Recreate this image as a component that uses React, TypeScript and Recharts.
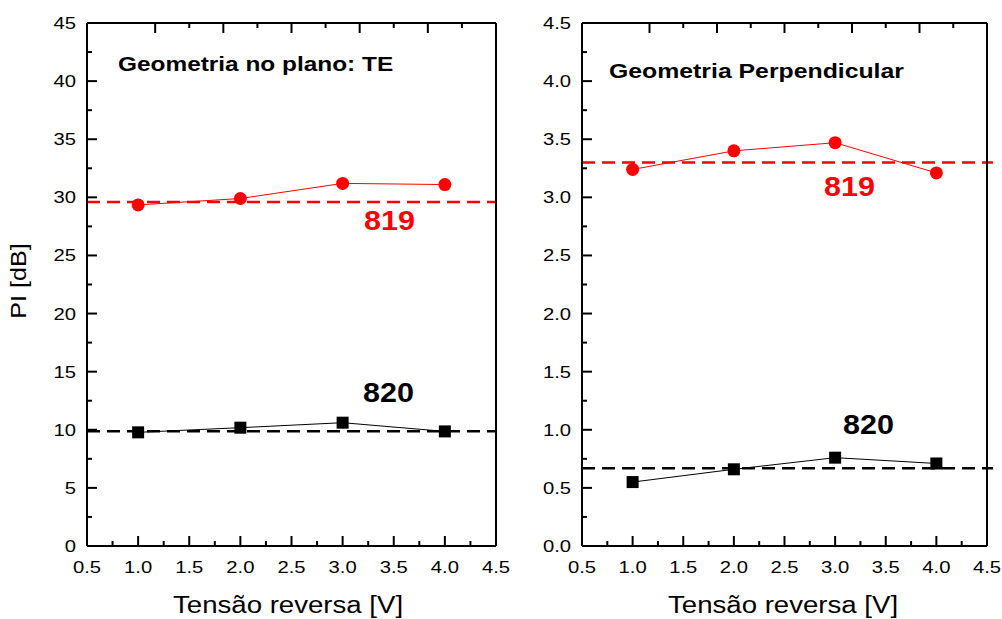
import React from 'react';
import { LineChart, Line, XAxis, YAxis, ReferenceLine } from 'recharts';

// Tensão reversa [V]
const voltages = [1.0, 2.0, 3.0, 4.0];

// Geometria no plano: TE  (PI in dB)
const te819 = [29.35, 29.9, 31.2, 31.1];
const te820 = [9.78, 10.18, 10.61, 9.86];
const te819Ref = 29.6;
const te820Ref = 9.88;

// Geometria Perpendicular
const perp819 = [3.24, 3.4, 3.47, 3.21];
const perp820 = [0.55, 0.66, 0.76, 0.71];
const perp819Ref = 3.3;
const perp820Ref = 0.67;

// ticks (major + minor)
const xTicks = [0.5, 0.75, 1.0, 1.25, 1.5, 1.75, 2.0, 2.25, 2.5, 2.75, 3.0, 3.25, 3.5, 3.75, 4.0, 4.25, 4.5];
const teYTicks = [0, 2.5, 5, 7.5, 10, 12.5, 15, 17.5, 20, 22.5, 25, 27.5, 30, 32.5, 35, 37.5, 40, 42.5, 45];
const perpYTicks = [0, 0.25, 0.5, 0.75, 1.0, 1.25, 1.5, 1.75, 2.0, 2.25, 2.5, 2.75, 3.0, 3.25, 3.5, 3.75, 4.0, 4.25, 4.5];

const FONT = '"Liberation Sans", Arial, Helvetica, sans-serif';
const RED = '#ff0000';

type Side = 'bottom' | 'top' | 'left' | 'right';

const makeTick = (side: Side, step: number, digits: number, showLabel: boolean) => (props: any) => {
  const { x, y, payload } = props;
  const v = payload.value as number;
  const major = Math.abs(v / step - Math.round(v / step)) < 1e-6;
  const len = major ? 10 : 5;
  let line;
  if (side === 'bottom') line = <line x1={x} x2={x} y1={y} y2={y - len} stroke="#000" strokeWidth={2} />;
  else if (side === 'top') line = <line x1={x} x2={x} y1={y} y2={y + len} stroke="#000" strokeWidth={2} />;
  else if (side === 'left') line = <line x1={x} x2={x + len} y1={y} y2={y} stroke="#000" strokeWidth={2} />;
  else line = <line x1={x} x2={x - len} y1={y} y2={y} stroke="#000" strokeWidth={2} />;

  let label = null;
  if (major && showLabel) {
    const txt = v.toFixed(digits);
    if (side === 'bottom') {
      label = (
        <text transform={`translate(${x},${y + 27}) scale(1.19,1)`} textAnchor="middle" fontSize={17} fontFamily={FONT} fill="#000">
          {txt}
        </text>
      );
    } else if (side === 'left') {
      label = (
        <text transform={`translate(${x - 11},${y + 6}) scale(1.19,1)`} textAnchor="end" fontSize={17} fontFamily={FONT} fill="#000">
          {txt}
        </text>
      );
    }
  }
  return (
    <g>
      {line}
      {label}
    </g>
  );
};

const circleDot = (props: any) => {
  const { cx, cy, index } = props;
  return <circle key={`c${index}`} cx={cx} cy={cy} r={6.5} fill={RED} />;
};

const squareDot = (props: any) => {
  const { cx, cy, index } = props;
  return <rect key={`s${index}`} x={cx - 6} y={cy - 6} width={12} height={12} fill="#000" />;
};

interface TxtProps {
  x: number;
  baseline: number;
  size: number;
  bold?: boolean;
  color?: string;
  scale?: number;
  children: React.ReactNode;
}

const Txt: React.FC<TxtProps> = ({ x, baseline, size, bold, color = '#000', scale = 1, children }) => (
  <div
    style={{
      position: 'absolute',
      left: x,
      top: baseline - 0.8465 * size,
      fontSize: size,
      lineHeight: `${size}px`,
      fontWeight: bold ? 'bold' : 'normal',
      fontFamily: FONT,
      color,
      whiteSpace: 'nowrap',
      transform: `scaleX(${scale})`,
      transformOrigin: 'left top',
    }}
  >
    {children}
  </div>
);

interface PanelProps {
  s819: number[];
  s820: number[];
  ref819: number;
  ref820: number;
  yTicks: number[];
  yMax: number;
  yStep: number;
  yDigits: number;
  width: number;
  leftW: number;
  rightW: number;
  refEnd: number;
}

const Panel: React.FC<PanelProps> = ({ s819, s820, ref819, ref820, yTicks, yMax, yStep, yDigits, width, leftW, rightW, refEnd }) => {
  const data = voltages.map((v, i) => ({ v, a: s819[i], b: s820[i] }));
  const axisLine = { stroke: '#000', strokeWidth: 2 };
  return (
    <LineChart width={width} height={619} data={data} margin={{ top: 0, right: 0, bottom: 0, left: 0 }}>
      <XAxis
        dataKey="v"
        type="number"
        domain={[0.5, 4.5]}
        ticks={xTicks}
        interval={0}
        height={73}
        axisLine={axisLine}
        tickLine={false}
        tickSize={0}
        tickMargin={0}
        tick={makeTick('bottom', 0.5, 1, true)}
      />
      <XAxis
        xAxisId="top"
        orientation="top"
        type="number"
        domain={[0.5, 4.5]}
        ticks={xTicks}
        interval={0}
        height={23}
        axisLine={axisLine}
        tickLine={false}
        tickSize={0}
        tickMargin={0}
        tick={makeTick('top', 0.5, 1, false)}
      />
      <YAxis
        type="number"
        domain={[0, yMax]}
        ticks={yTicks}
        interval={0}
        width={leftW}
        axisLine={axisLine}
        tickLine={false}
        tickSize={0}
        tickMargin={0}
        tick={makeTick('left', yStep, yDigits, true)}
      />
      <YAxis
        yAxisId="right"
        orientation="right"
        type="number"
        domain={[0, yMax]}
        ticks={yTicks}
        interval={0}
        width={rightW}
        axisLine={axisLine}
        tickLine={false}
        tickSize={0}
        tickMargin={0}
        tick={makeTick('right', yStep, yDigits, false)}
      />
      <ReferenceLine
        segment={[{ x: 0.5, y: ref819 }, { x: refEnd, y: ref819 }]}
        stroke={RED}
        strokeWidth={2.5}
        strokeDasharray="13 7"
        ifOverflow="visible"
      />
      <ReferenceLine
        segment={[{ x: 0.5, y: ref820 }, { x: refEnd, y: ref820 }]}
        stroke="#000"
        strokeWidth={2.5}
        strokeDasharray="13 7"
        ifOverflow="visible"
      />
      <Line dataKey="a" stroke={RED} strokeWidth={1} dot={circleDot} activeDot={false} isAnimationActive={false} />
      <Line dataKey="b" stroke="#000" strokeWidth={1} dot={squareDot} activeDot={false} isAnimationActive={false} />
    </LineChart>
  );
};

export default function App() {
  return (
    <div style={{ position: 'absolute', left: 0, top: 0, width: 1002, height: 619, background: '#fff', overflow: 'hidden' }}>
      <div style={{ position: 'absolute', left: 0, top: 0 }}>
        <Panel
          s819={te819}
          s820={te820}
          ref819={te819Ref}
          ref820={te820Ref}
          yTicks={teYTicks}
          yMax={45}
          yStep={5}
          yDigits={0}
          width={525}
          leftW={87}
          rightW={29}
          refEnd={4.5}
        />
      </div>
      <div style={{ position: 'absolute', left: 500, top: 0 }}>
        <Panel
          s819={perp819}
          s820={perp820}
          ref819={perp819Ref}
          ref820={perp820Ref}
          yTicks={perpYTicks}
          yMax={4.5}
          yStep={0.5}
          yDigits={1}
          width={502}
          leftW={82}
          rightW={15}
          refEnd={4.56}
        />
      </div>

      <Txt x={118} baseline={71} size={20} bold scale={1.22}>Geometria no plano: TE</Txt>
      <Txt x={609} baseline={78} size={20} bold scale={1.24}>Geometria Perpendicular</Txt>

      <Txt x={364} baseline={231} size={28} bold color={RED} scale={1.09}>819</Txt>
      <Txt x={363} baseline={403} size={28} bold scale={1.09}>820</Txt>
      <Txt x={824} baseline={197} size={28} bold color={RED} scale={1.09}>819</Txt>
      <Txt x={843} baseline={435} size={28} bold scale={1.09}>820</Txt>

      <Txt x={173} baseline={613} size={23} scale={1.2}>Tensão reversa [V]</Txt>
      <Txt x={668} baseline={613} size={23} scale={1.2}>Tensão reversa [V]</Txt>

      <div
        style={{
          position: 'absolute',
          left: 19,
          top: 280.5,
          fontSize: 22,
          lineHeight: '22px',
          fontFamily: FONT,
          whiteSpace: 'nowrap',
          transform: 'translate(-50%, -50%) rotate(-90deg) scaleX(1.14)',
        }}
      >
        PI [dB]
      </div>
    </div>
  );
}
